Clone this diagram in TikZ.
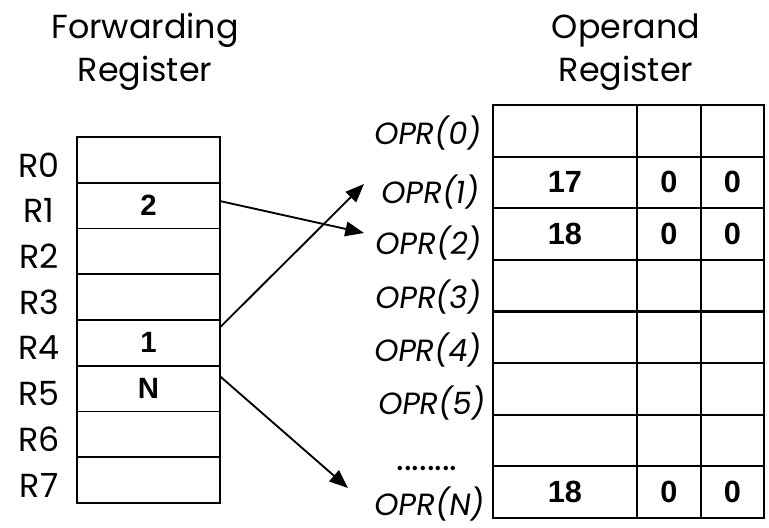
\documentclass[tikz,border=0pt]{standalone}
\usepackage{fontspec}
\newfontfamily\handfont{Poppins}
\newfontfamily\handslant{Poppins}[FakeSlant=0.15]
\newfontfamily\numfont{Liberation Sans}
\usetikzlibrary{arrows.meta,calc}

\begin{document}
\begin{tikzpicture}[x=0.75pt,y=-0.75pt,
  title/.style={font=\handfont\fontsize{25}{32}\selectfont,align=center,inner sep=0pt},
  rname/.style={font=\handfont\fontsize{25}{30}\selectfont,inner sep=0pt},
  oname/.style={font=\handslant\fontsize{23}{26}\selectfont,inner sep=0pt,anchor=east},
  regcell/.style={draw,line width=1.3pt,inner sep=0pt,outer sep=0pt,
    minimum width=107.25pt,minimum height=34.31pt,
    font=\numfont\bfseries\fontsize{22}{24}\selectfont},
  opcell/.style={draw,line width=1.6pt,inner sep=0pt,outer sep=0pt,
    minimum height=38.72pt,font=\numfont\bfseries\fontsize{23}{26}\selectfont},
  link/.style={line width=1.4pt,-{Triangle[length=14pt,width=11pt]}}]
\useasboundingbox (0,0) rectangle (769,528);

% headings
\node[title] (fwdtitle) at (145,52) {Forwarding\\Register};
\node[title] (oprtitle) at (626,52) {Operand\\Register};

% forwarding register: eight slots R0..R7
\foreach \i/\v in {0/,1/2,2/,3/,4/1,5/N,6/,7/}{
  \node[regcell] (r\i) at (148.5,{137+45.75*(\i+0.5)}) {\raisebox{-2pt}{\v}};
  \node[rname] (rl\i) at (39,{142+45.75*(\i+0.5)}) {R\i};
}

% operand register: eight rows of three fields
\foreach \j/\a/\b/\c in {0///,1/17/0/0,2/18/0/0,3///,4///,5///,6///,7/18/0/0}{
  \node[opcell,minimum width=108pt] (oa\j) at (565,{105+51.625*(\j+0.5)}) {\a};
  \node[opcell,minimum width=48pt] (ob\j) at (669,{105+51.625*(\j+0.5)}) {\b};
  \node[opcell,minimum width=47.25pt] (oc\j) at (732.5,{105+51.625*(\j+0.5)}) {\c};
}

% row names of the operand register
\node[oname] (o0) at (481,133) {OPR(0)};
\node[oname] (o1) at (479,192) {OPR(1)};
\node[oname] (o2) at (481,243) {OPR(2)};
\node[oname] (o3) at (481,297) {OPR(3)};
\node[oname] (o4) at (481,350) {OPR(4)};
\node[oname] (o5) at (485,403) {OPR(5)};
\node[font=\handfont\fontsize{27}{30}\selectfont,inner sep=0pt,anchor=base] (dots) at (427,470) {........};
\node[oname] (oN) at (484,504) {OPR(N)};

% arrow targets beside the row names
\coordinate (t1) at (364,184);
\coordinate (t2) at (364,233);
\coordinate (tN) at (348,488);

% forwarding links
\draw[link] ($(r1.north east)!0.40!(r1.south east)$) -- (t2);
\draw[link] ($(r4.north east)!0.16!(r4.south east)$) -- (t1);
\draw[link] ($(r5.north east)!0.23!(r5.south east)$) -- (tN);
\end{tikzpicture}
\end{document}
